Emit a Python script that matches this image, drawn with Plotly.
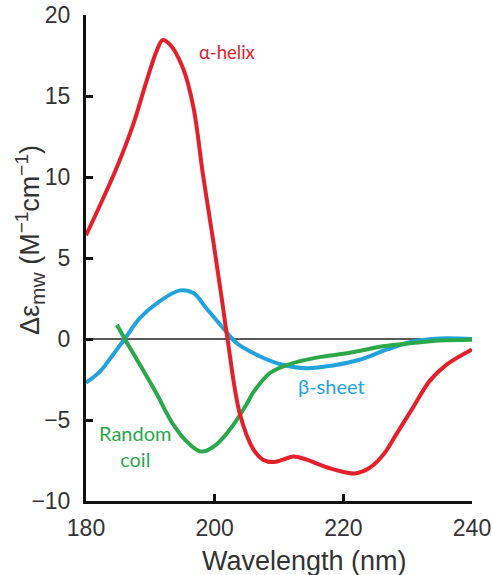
import plotly.graph_objects as go

# α-helix
helix_wl = [180, 182, 184.8, 187.3, 189.4, 191, 191.9, 193, 195.1, 196.7, 198.2, 199.8, 201.1, 202,
            203.9, 206, 207.5, 209.1, 210.6, 212.2, 214.3, 216.9, 219.4, 221.8, 224.1, 226.2, 228.2,
            230.8, 233.4, 236, 240]
helix_de = [6.4, 8.1, 10.6, 13.2, 15.9, 17.8, 18.45, 18.2, 16.7, 14.3, 10.1, 6.0, 2.5, 0,
            -4.6, -6.8, -7.45, -7.6, -7.45, -7.25, -7.45, -7.85, -8.15, -8.3, -7.95, -7.15, -5.9,
            -4.25, -2.6, -1.6, -0.65]

# β-sheet
sheet_wl = [180, 182.2, 184.2, 186.1, 188.4, 191, 194.6, 196.7, 198.7, 201.3, 203.4, 206.5, 210.1,
            214.3, 218.4, 222.5, 226.7, 230.8, 235, 240]
sheet_de = [-2.7, -2.0, -0.97, 0.06, 1.3, 2.2, 3.0, 2.84, 1.9, 0.68, -0.25, -0.97, -1.54,
            -1.8, -1.63, -1.28, -0.66, -0.15, 0.03, 0.0]

# Random coil
coil_wl = [184.8, 186.1, 188.4, 191, 193.6, 196.1, 198, 200.3, 202.9, 205, 206, 208.6, 211.7,
           215.8, 221, 226.2, 230.8, 235, 240]
coil_de = [0.88, -0.04, -1.6, -3.4, -5.3, -6.5, -6.95, -6.5, -5.3, -4.0, -3.3, -2.1, -1.55,
           -1.15, -0.85, -0.45, -0.25, -0.1, -0.05]

x_ticks = [180, 200, 220, 240]
y_ticks = [-10, -5, 0, 5, 10, 15, 20]

RED = "#e3212b"
BLUE = "#22a3dd"
GREEN = "#2aa84a"

fig = go.Figure()
for wl, de, col in [(sheet_wl, sheet_de, BLUE), (coil_wl, coil_de, GREEN), (helix_wl, helix_de, RED)]:
    fig.add_trace(go.Scatter(x=wl, y=de, mode="lines",
                             line=dict(color=col, width=4, shape="spline", smoothing=1.0),
                             showlegend=False, hoverinfo="skip"))

FAM = "Liberation Sans, Arial, sans-serif"
tickfont = dict(family=FAM, size=23, color="#333333")
titlefont = dict(family=FAM, size=27, color="#333333")

fig.update_layout(
    width=492, height=575,
    margin=dict(l=86, r=20, t=15, b=74),
    paper_bgcolor="white", plot_bgcolor="white",
    xaxis=dict(range=[180, 240], tickvals=x_ticks, showgrid=False, zeroline=False,
               automargin=False,
               showline=True, linecolor="#111111", linewidth=3,
               ticks="inside", ticklen=7, tickwidth=2.5, tickcolor="#111111",
               tickfont=tickfont, ticklabelstandoff=4),
    yaxis=dict(range=[-10, 20], tickvals=y_ticks, showgrid=False,
               automargin=False,
               zeroline=True, zerolinecolor="#5a5a5a", zerolinewidth=2,
               showline=True, linecolor="#111111", linewidth=3,
               ticks="inside", ticklen=7, tickwidth=2.5, tickcolor="#111111",
               tickfont=tickfont, ticklabelstandoff=8),
)

# axis titles
fig.add_annotation(xref="paper", yref="paper", x=0.565, y=-0.1235, xanchor="center", yanchor="middle",
                   text="Wavelength (nm)", showarrow=False, font=titlefont)
fig.add_annotation(xref="paper", yref="paper", x=-0.145, y=0.537, xanchor="center", yanchor="middle",
                   textangle=-90, showarrow=False, font=titlefont,
                   text="Δε<sub><span style='font-size:21px'>mw</span></sub> (M<sup><span style='font-size:19px'>−1</span></sup>cm<sup><span style='font-size:19px'>−1</span></sup>)")

lblfont = "Lato, Open Sans, sans-serif"
fig.add_annotation(x=201.9, y=17.7, text="α-helix", showarrow=False,
                   font=dict(family=lblfont, size=18.5, color=RED))
fig.add_annotation(x=218.2, y=-2.9, text="β-sheet", showarrow=False,
                   font=dict(family=lblfont, size=20, color=BLUE))
fig.add_annotation(x=187.6, y=-6.6, text="Random<br>coil", showarrow=False,
                   font=dict(family=lblfont, size=20, color=GREEN))

fig.write_html("out.html")
